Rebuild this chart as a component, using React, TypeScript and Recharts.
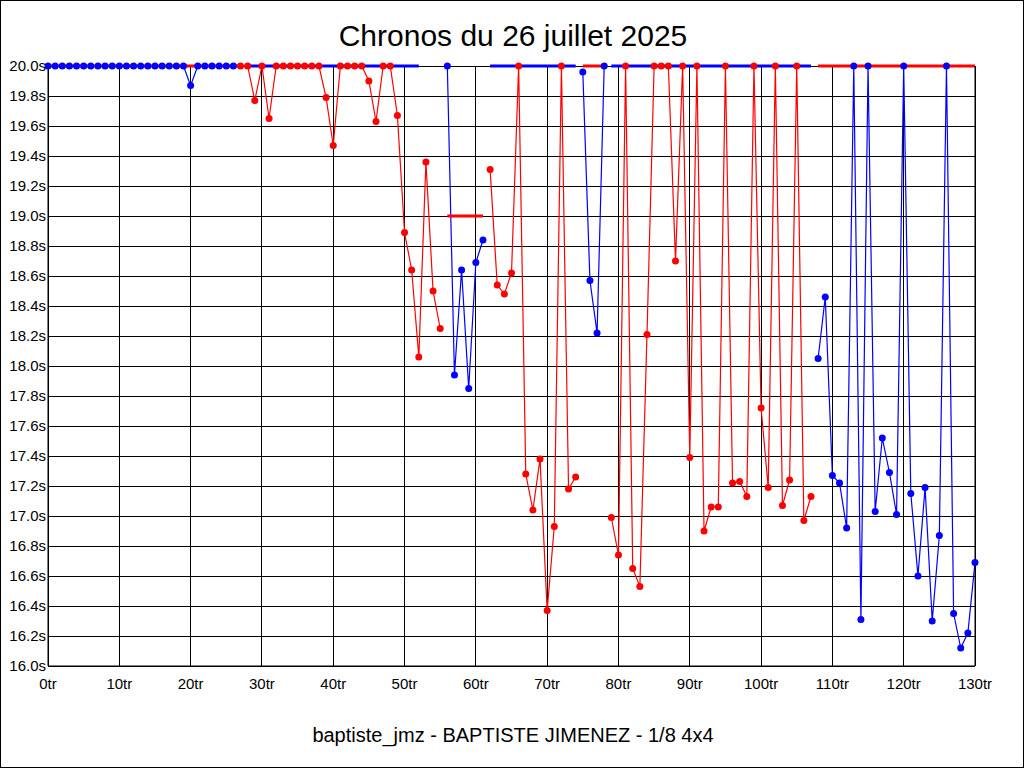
import React from 'react';
import { LineChart, Line, XAxis, YAxis, CartesianGrid } from 'recharts';

const BLUE = '#0000ff';
const RED = '#ff0000';
const FONT = '"Liberation Sans", Arial, Helvetica, sans-serif';

const TITLE = 'Chronos du 26 juillet 2025';
const SUBTITLE = 'baptiste_jmz - BAPTISTE JIMENEZ - 1/8 4x4';

// lap times (s) per lap, 20.0 = off the chart (clipped at the top)
const blueTimes: (number | null)[] = [
  20, 20, 20, 20, 20, 20, 20, 20, 20, 20,
  20, 20, 20, 20, 20, 20, 20, 20, 20, 20,
  19.87, 20, 20, 20, 20, 20, 20, null, null, null,
  null, null, null, null, null, null, null, null, null, null,
  null, null, null, null, null, null, null, null, null, null,
  null, null, null, null, null, null, 20, 17.94, 18.64, 17.85,
  18.69, 18.84, null, null, null, null, null, null, null, null,
  null, null, null, null, null, 19.96, 18.57, 18.22, 20, null,
  null, null, null, null, null, null, null, null, null, null,
  null, null, null, null, null, null, null, null, null, null,
  null, null, null, null, null, null, null, null, 18.05, 18.46,
  17.27, 17.22, 16.92, 20, 16.31, 20, 17.03, 17.52, 17.29, 17.01,
  20, 17.15, 16.6, 17.19, 16.3, 16.87, 20, 16.35, 16.12, 16.22,
  16.69,
];

const redTimes: (number | null)[] = [
  null, null, null, null, null, null, null, null, null, null,
  null, null, null, null, null, null, null, null, null, null,
  null, null, null, null, null, null, null, 20, 20, 19.77,
  20, 19.65, 20, 20, 20, 20, 20, 20, 20, 19.79,
  19.47, 20, 20, 20, 20, 19.9, 19.63, 20, 20, 19.67,
  18.89, 18.64, 18.06, 19.36, 18.5, 18.25, null, null, null, null,
  null, null, 19.31, 18.54, 18.48, 18.62, 20, 17.28, 17.04, 17.38,
  16.37, 16.93, 20, 17.18, 17.26, null, null, null, null, 16.99,
  16.74, 20, 16.65, 16.53, 18.21, 20, 20, 20, 18.7, 20,
  17.39, 20, 16.9, 17.06, 17.06, 20, 17.22, 17.23, 17.13, 20,
  17.72, 17.19, 20, 17.07, 17.24, 20, 16.97, 17.13, null, null,
  null, null, null, null, null, null, null, null, null, null,
  null, null, null, null, null, null, null, null, null, null,
  null,
];

// lap ranges where a series sits above the chart (drawn as a thick band at the top)
const blueBands: [number, number][] = [[28, 52], [62, 74], [79, 107]];
const redBands: [number, number][] = [[0, 27], [75, 78], [108, 130]];
// short red marker at 19.0s
const redMarker: [number, number] = [56, 61];
const redMarkerValue = 19.0;
const topValue = 20.0;

const xTicks = [0, 10, 20, 30, 40, 50, 60, 70, 80, 90, 100, 110, 120, 130];
const yTicks = [
  16.0, 16.2, 16.4, 16.6, 16.8, 17.0, 17.2, 17.4, 17.6, 17.8, 18.0,
  18.2, 18.4, 18.6, 18.8, 19.0, 19.2, 19.4, 19.6, 19.8, 20.0,
];

const inRanges = (lap: number, ranges: [number, number][]) =>
  ranges.some(([a, b]) => lap >= a && lap <= b);

const rows = blueTimes.map((b, lap) => ({
  lap,
  blue: b,
  red: redTimes[lap],
  blueBand: inRanges(lap, blueBands) ? topValue : null,
  redBand: inRanges(lap, redBands) ? topValue : null,
  marker: lap >= redMarker[0] && lap <= redMarker[1] ? redMarkerValue : null,
}));

const tickStyle = { fill: '#000', fontSize: 15, fontFamily: FONT };

export default function App() {
  return (
    <div
      style={{
        position: 'absolute',
        left: 0,
        top: 0,
        width: 1024,
        height: 768,
        background: '#fff',
        border: '1px solid #000',
        boxSizing: 'border-box',
        fontFamily: FONT,
        overflow: 'hidden',
      }}
    >
      <div style={{ position: 'absolute', left: 0, width: 1024, top: 20, textAlign: 'center', fontSize: 30, lineHeight: '30px', color: '#000' }}>
        {TITLE}
      </div>
      <div style={{ position: 'absolute', left: -1, top: -1 }}>
        <LineChart width={1024} height={768} data={rows} margin={{ top: 66, right: 0, bottom: 0, left: 0 }}>
          <CartesianGrid stroke="#000" strokeWidth={1} shapeRendering="crispEdges" />
          <XAxis
            dataKey="lap"
            type="number"
            domain={[0, 130]}
            ticks={xTicks}
            interval={0}
            height={102}
            tickLine={false}
            tickSize={0}
            tickMargin={12}
            axisLine={{ stroke: '#000' }}
            fontSize={15}
            tick={tickStyle}
            tickFormatter={(v: number) => `${v}tr`}
          />
          <YAxis
            domain={[16, 20]}
            ticks={yTicks}
            interval={0}
            width={48}
            tickLine={false}
            tickSize={0}
            tickMargin={2}
            axisLine={{ stroke: '#000' }}
            fontSize={15}
            tick={tickStyle}
            tickFormatter={(v: number) => `${v.toFixed(1)}s`}
          />
          <YAxis
            yAxisId="right"
            orientation="right"
            domain={[16, 20]}
            ticks={yTicks}
            interval={0}
            width={49}
            tickLine={false}
            tickSize={0}
            tickMargin={3}
            axisLine={{ stroke: '#000' }}
            fontSize={15}
            tick={tickStyle}
            tickFormatter={(v: number) => `${v.toFixed(1)}s`}
          />
          <Line dataKey="blue" stroke={BLUE} strokeWidth={1.2} dot={false} activeDot={false} isAnimationActive={false} />
          <Line dataKey="red" stroke={RED} strokeWidth={1.2} dot={false} activeDot={false} isAnimationActive={false} />
          <Line dataKey="blueBand" stroke={BLUE} strokeWidth={3} dot={false} activeDot={false} isAnimationActive={false} />
          <Line dataKey="redBand" stroke={RED} strokeWidth={3} dot={false} activeDot={false} isAnimationActive={false} />
          <Line dataKey="marker" stroke={RED} strokeWidth={3} dot={false} activeDot={false} isAnimationActive={false} />
          <Line
            name="blueDots"
            dataKey="blue"
            stroke="none"
            dot={{ r: 3.5, fill: BLUE, stroke: 'none' }}
            activeDot={false}
            isAnimationActive={false}
          />
          <Line
            name="redDots"
            dataKey="red"
            stroke="none"
            dot={{ r: 3.5, fill: RED, stroke: 'none' }}
            activeDot={false}
            isAnimationActive={false}
          />
        </LineChart>
      </div>
      <div style={{ position: 'absolute', left: 0, width: 1024, top: 724, textAlign: 'center', fontSize: 20, lineHeight: '20px', color: '#000' }}>
        {SUBTITLE}
      </div>
    </div>
  );
}
